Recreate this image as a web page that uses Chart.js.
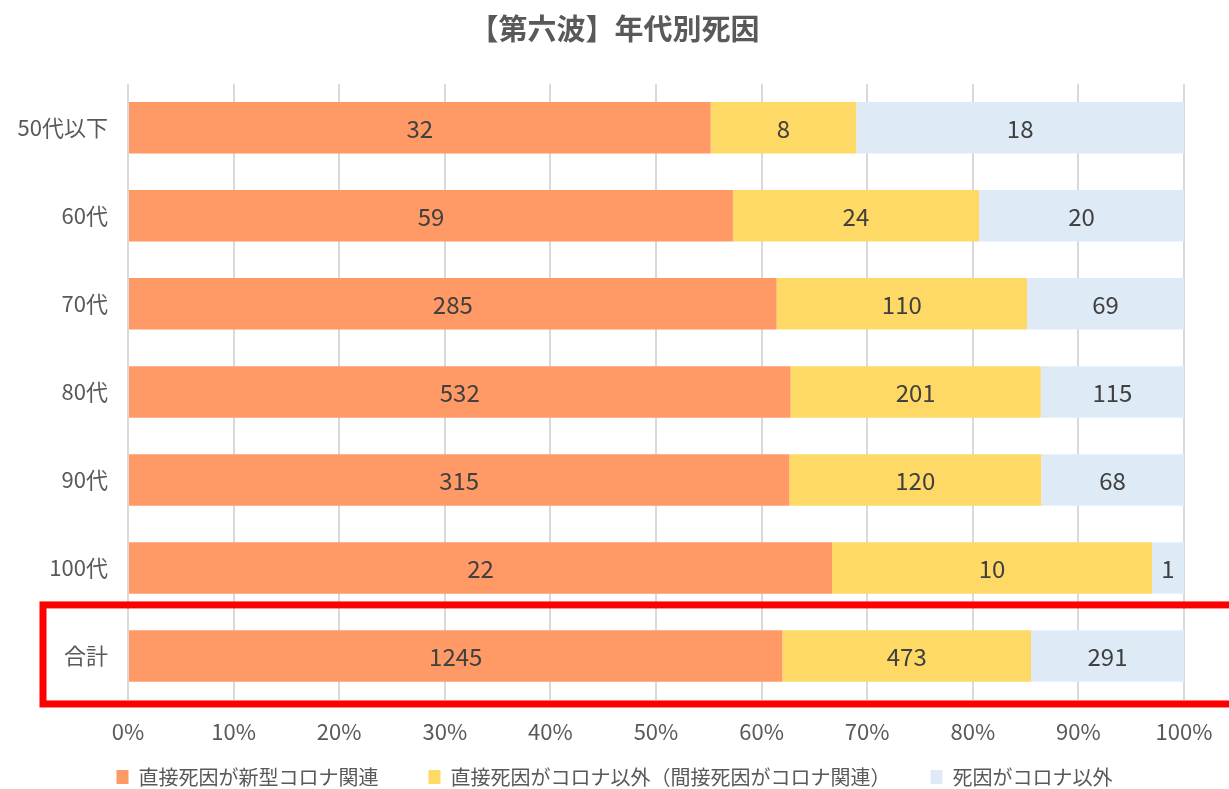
<!DOCTYPE html>
<html>
<head>
<meta charset="utf-8">
<script src="https://cdn.jsdelivr.net/npm/chart.js@4"></script>
<style>
  html, body { margin: 0; padding: 0; background: #fff; }
  #wrap { width: 1229px; height: 789px; }
</style>
</head>
<body>
<div id="wrap"><canvas id="deathChart"></canvas></div>
<script>
// 年代別の件数
const ageGroups = ['50代以下', '60代', '70代', '80代', '90代', '100代', '合計'];
const directCovid = [32, 59, 285, 532, 315, 22, 1245];
const indirectCovid = [8, 24, 110, 201, 120, 10, 473];
const notCovid = [18, 20, 69, 115, 68, 1, 291];
const seriesNames = ['直接死因が新型コロナ関連', '直接死因がコロナ以外（間接死因がコロナ関連）', '死因がコロナ以外'];
const percentTicks = [0, 10, 20, 30, 40, 50, 60, 70, 80, 90, 100];

const fontFamily = '"Noto Sans CJK JP", "Noto Sans", sans-serif';

// 100%積み上げ用に割合へ変換
const totals = ageGroups.map((_, i) => directCovid[i] + indirectCovid[i] + notCovid[i]);
const toPercent = arr => arr.map((v, i) => v / totals[i] * 100);

// 各区間の中央に件数を描く
const segmentLabels = {
    id: 'segmentLabels',
    afterDatasetsDraw(chart) {
        const ctx = chart.ctx;
        ctx.save();
        ctx.font = '24px ' + fontFamily;
        ctx.fillStyle = '#404040';
        ctx.textAlign = 'center';
        ctx.textBaseline = 'middle';
        chart.data.datasets.forEach((ds, di) => {
            const meta = chart.getDatasetMeta(di);
            meta.data.forEach((bar, i) => {
                const p = bar.getProps(['x', 'y', 'base'], true);
                ctx.fillText(ds.counts[i], (p.x + p.base) / 2, p.y + 1);
            });
        });
        ctx.restore();
    }
};

// 合計行を赤枠で囲む
const totalFrame = {
    id: 'totalFrame',
    afterDraw(chart) {
        const y = chart.scales.y;
        const area = chart.chartArea;
        const center = y.getPixelForValue(ageGroups.length - 1);
        const band = (area.bottom - area.top) / ageGroups.length;
        const ctx = chart.ctx;
        ctx.save();
        ctx.strokeStyle = '#ff0000';
        ctx.lineWidth = 7;
        ctx.strokeRect(area.left - 85, center - band * 0.58, chart.width, band * 1.125);
        ctx.restore();
    }
};

const ctx = document.getElementById('deathChart').getContext('2d');
const deathChart = new Chart(ctx, {
    type: 'bar',
    data: {
        labels: ageGroups,
        datasets: [{
            label: seriesNames[0],
            data: toPercent(directCovid),
            counts: directCovid,
            backgroundColor: '#ff9966'
        }, {
            label: seriesNames[1],
            data: toPercent(indirectCovid),
            counts: indirectCovid,
            backgroundColor: '#ffd966'
        }, {
            label: seriesNames[2],
            data: toPercent(notCovid),
            counts: notCovid,
            backgroundColor: '#deebf7'
        }]
    },
    options: {
        indexAxis: 'y',
        responsive: true,
        maintainAspectRatio: false,
        animation: false,
        barPercentage: 0.585,
        categoryPercentage: 1,
        layout: { padding: { left: 0, right: 0, top: 8, bottom: -8 } },
        scales: {
            x: {
                stacked: true,
                min: 0,
                max: 100,
                afterBuildTicks(scale) {
                    scale.ticks = percentTicks.map(v => ({ value: v }));
                },
                afterFit(scale) {
                    scale.height = 57;
                    scale.paddingRight = 45;
                },
                grid: { color: '#d9d9d9', lineWidth: 2, drawTicks: false },
                border: { display: false },
                ticks: {
                    padding: 18,
                    color: '#595959',
                    font: { size: 22, family: fontFamily },
                    callback: v => v + '%'
                }
            },
            y: {
                stacked: true,
                afterFit(scale) { scale.width = 128; },
                grid: { display: false, drawTicks: false },
                border: { display: false },
                ticks: {
                    padding: 20,
                    color: '#595959',
                    font: { size: 22, family: fontFamily }
                }
            }
        },
        plugins: {
            title: {
                display: true,
                text: '【第六波】年代別死因',
                color: '#595959',
                font: { size: 29, weight: 'bold', family: fontFamily },
                padding: { top: 4, bottom: 37 }
            },
            legend: {
                position: 'bottom',
                labels: {
                    boxWidth: 12,
                    boxHeight: 14,
                    padding: 10,
                    color: '#595959',
                    font: { size: 20, family: fontFamily },
                    // 凡例項目の間隔を広げるため全角スペースを付ける
                    generateLabels(chart) {
                        const items = Chart.defaults.plugins.legend.labels.generateLabels(chart);
                        items.forEach((item, i) => {
                            if (i < items.length - 1) item.text += '　　';
                        });
                        return items;
                    }
                }
            },
            tooltip: { enabled: false }
        }
    },
    plugins: [segmentLabels, totalFrame]
});
</script>
</body>
</html>
